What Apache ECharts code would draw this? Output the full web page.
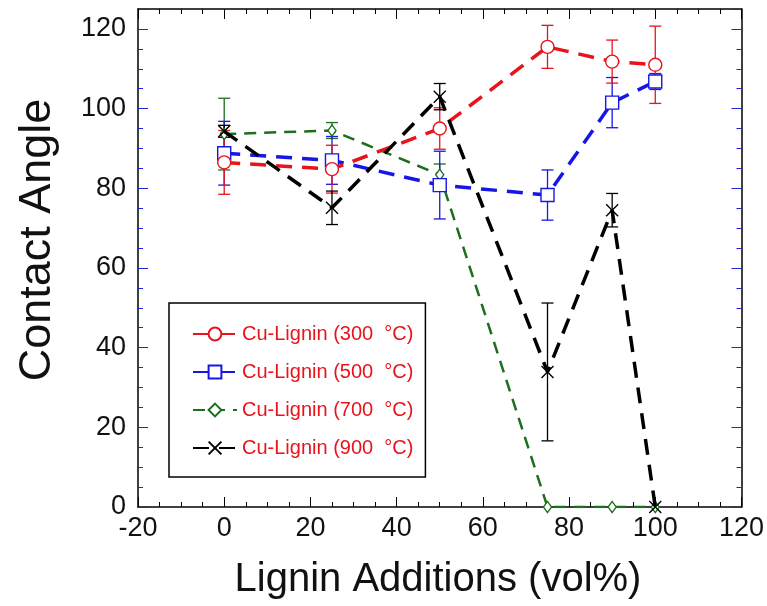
<!DOCTYPE html>
<html>
<head>
<meta charset="utf-8">
<script src="https://cdn.jsdelivr.net/npm/echarts@6/dist/echarts.min.js"></script>
<style>html,body{margin:0;padding:0;background:#fff}#c{width:767px;height:606px}</style>
</head>
<body>
<div id="c"></div>
<script>
// ---- data ----
const xs = [0, 25, 50, 75, 90, 100];
const names = ['Cu-Lignin (300  \u00B0C)', 'Cu-Lignin (500  \u00B0C)', 'Cu-Lignin (700  \u00B0C)', 'Cu-Lignin (900  \u00B0C)'];
const red = [86.5, 84.8, 95, 115.5, 111.8, 111];
const redErr = [8, 6, 5.2, 5.4, 5.4, 9.7];
const blue = [88.8, 87, 80.8, 78.3, 101.5, 106.8];
const blueErr = [8, 6, 8.5, 6.3, 6.3, 2];
const green = [93.6, 94.5, 83.4, 0, 0, 0];
const greenErr = [9, 2, 2.7, 0, 0, 0];
const black = [94.3, 75.1, 103, 33.9, 74.5, 0];
const blackErr = [1.5, 4.2, 3.3, 17.3, 4.2, 0];
const xTicks = [-20, 0, 20, 40, 60, 80, 100, 120];
const yTicks = [0, 20, 40, 60, 80, 100, 120];

const chart = echarts.init(document.getElementById('c'));
const FONT = 'Liberation Sans, Arial, sans-serif';

function pairs(v) { return xs.map((x, i) => [x, v[i]]); }
function errSeries(v, e, color) {
  return {
    type: 'custom', silent: true, z: 3,
    data: xs.map((x, i) => [x, v[i] - e[i], v[i] + e[i]]).filter((d, i) => e[i] > 0),
    renderItem: function (params, api) {
      const lo = api.coord([api.value(0), api.value(1)]);
      const hi = api.coord([api.value(0), api.value(2)]);
      const w = 6;
      const st = { stroke: color, lineWidth: 1.3 };
      return { type: 'group', children: [
        { type: 'line', shape: { x1: lo[0], y1: lo[1], x2: hi[0], y2: hi[1] }, style: st },
        { type: 'line', shape: { x1: lo[0] - w, y1: lo[1], x2: lo[0] + w, y2: lo[1] }, style: st },
        { type: 'line', shape: { x1: hi[0] - w, y1: hi[1], x2: hi[0] + w, y2: hi[1] }, style: st }
      ]};
    }
  };
}
function lineSeries(name, v, color, symbol, size, width, dash, z, fill) {
  return {
    name: name, type: 'line', data: pairs(v), symbol: symbol, symbolSize: size, z: z,
    showAllSymbol: true,
    lineStyle: { color: color, width: width, type: dash },
    itemStyle: { color: fill, borderColor: color, borderWidth: 1.4 },
    emphasis: { disabled: true }
  };
}

const RED = '#e8141c', BLUE = '#1616e6', GREEN = '#1d6e1d', BLACK = '#000';
const xPath = 'path://M0,0L10,10M10,0L0,10';

chart.setOption({
  animation: false,
  grid: { left: 138, right: 25, top: 9, bottom: 99, show: false },
  legend: {
    left: 169, top: 303, orient: 'vertical',
    padding: [21, 12, 19, 23], itemGap: 18,
    itemWidth: 44, itemHeight: 16,
    borderColor: '#000', borderWidth: 1.5, backgroundColor: '#fff',
    textStyle: { color: RED, fontSize: 20, fontFamily: FONT },
    data: names
  },
  xAxis: [{
    type: 'value', min: -20, max: 120, interval: 20, position: 'bottom',
    axisLine: { onZero: false, lineStyle: { color: '#000', width: 1.5 } },
    axisTick: { inside: true, length: 10, lineStyle: { color: '#000' } },
    minorTick: { show: true, splitNumber: 4, length: 5, lineStyle: { color: '#000' } },
    splitLine: { show: false },
    axisLabel: { fontSize: 27, color: '#111', fontFamily: FONT, margin: 8 }
  }, {
    type: 'value', min: -20, max: 120, interval: 20, position: 'top',
    axisLine: { onZero: false, lineStyle: { color: '#000', width: 1.5 } },
    axisTick: { inside: true, length: 10, lineStyle: { color: '#000' } },
    minorTick: { show: true, splitNumber: 4, length: 5, lineStyle: { color: '#000' } },
    splitLine: { show: false }, axisLabel: { show: false }
  }],
  yAxis: [{
    type: 'value', min: 0, max: 125, interval: 20, position: 'left',
    axisLine: { onZero: false, lineStyle: { color: '#000', width: 1.5 } },
    axisTick: { inside: true, length: 10, lineStyle: { color: '#2222dd' } },
    minorTick: { show: true, splitNumber: 4, length: 5, lineStyle: { color: '#2222dd' } },
    splitLine: { show: false },
    axisLabel: { fontSize: 27, color: '#111', fontFamily: FONT, margin: 12, showMaxLabel: false,
      formatter: function (v) { return yTicks.indexOf(v) >= 0 ? String(v) : ''; } }
  }, {
    type: 'value', min: 0, max: 125, interval: 20, position: 'right',
    axisLine: { onZero: false, lineStyle: { color: '#000', width: 1.5 } },
    axisTick: { inside: true, length: 10, lineStyle: { color: '#2222dd' } },
    minorTick: { show: true, splitNumber: 4, length: 5, lineStyle: { color: '#2222dd' } },
    splitLine: { show: false }, axisLabel: { show: false }
  }],
  graphic: [
    { type: 'text', x: 438, y: 580, style: { text: 'Lignin Additions (vol%)', fontSize: 40, fontFamily: FONT, fill: '#111', align: 'center', verticalAlign: 'middle' } },
    { type: 'text', x: 38, y: 240, rotation: Math.PI / 2, style: { text: 'Contact Angle', fontSize: 45, fontFamily: FONT, fill: '#111', align: 'center', verticalAlign: 'middle' } }
  ],
  series: [
    errSeries(green, greenErr, GREEN),
    errSeries(blue, blueErr, BLUE),
    errSeries(red, redErr, RED),
    errSeries(black, blackErr, BLACK),
    lineSeries(names[2], green, GREEN, 'diamond', [8, 11], 2.5, [12, 8], 4, '#fff'),
    lineSeries(names[1], blue, BLUE, 'rect', 13, 3.5, [16, 10], 5, '#fff'),
    lineSeries(names[0], red, RED, 'circle', 13, 3.5, [16, 10], 6, '#fff'),
    lineSeries(names[3], black, BLACK, xPath, 12, 3.5, [16, 10], 7, 'rgba(255,255,255,0)')
  ]
});
</script>
</body>
</html>
